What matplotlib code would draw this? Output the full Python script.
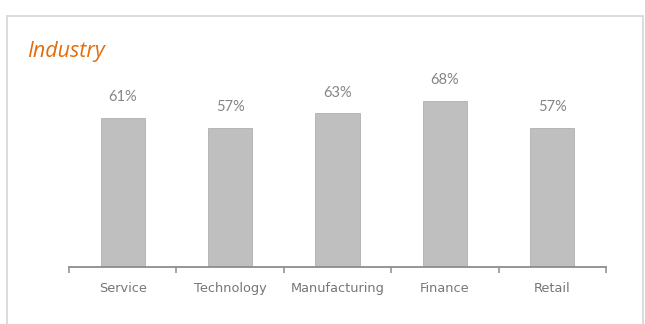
import matplotlib
matplotlib.use("Agg")
import matplotlib.pyplot as plt
from matplotlib.patches import Rectangle

categories = ["Service", "Technology", "Manufacturing", "Finance", "Retail"]
values = [61, 57, 63, 68, 57]
value_labels = ["61%", "57%", "63%", "68%", "57%"]

W, H = 645, 324
fig = plt.figure(figsize=(W / 100, H / 100), dpi=100)
fig.patch.set_facecolor("white")

# outer frame
fig.patches.append(Rectangle((6.5 / W, -0.05), (643 - 6.5) / W, 1.05 - 15.5 / H,
                             transform=fig.transFigure, fill=False,
                             edgecolor="#d9d9d9", linewidth=1.3))

ax = fig.add_axes([69 / W, 1 - 267 / H, (606 - 69) / W, (267 - 72) / H])
x = list(range(len(categories)))
ax.bar(x, values, width=0.41, color="#bfbfbf", edgecolor="#b0b0b0", linewidth=0.6)

for xi, v, lab in zip(x, values, value_labels):
    ax.annotate(lab, (xi, v), xytext=(0, 10), textcoords="offset points",
                ha="center", va="bottom", fontsize=10.5, color="#858585",
                family="Lato")

ax.set_xlim(-0.5, len(categories) - 0.5)
ax.set_ylim(0, 80)
for s in ("top", "right", "left"):
    ax.spines[s].set_visible(False)
ax.spines["bottom"].set_color("#8c8c8c")
ax.spines["bottom"].set_linewidth(1.3)
ax.set_yticks([])

# boundary ticks between categories
ax.set_xticks([i - 0.5 for i in range(len(categories) + 1)], minor=False)
ax.set_xticklabels([])
ax.tick_params(axis="x", which="major", direction="out", length=4,
               color="#8c8c8c", width=1.1)
# category names centred under the bars
ax.set_xticks(x, minor=True)
ax.set_xticklabels(categories, minor=True)
ax.tick_params(axis="x", which="minor", length=0, pad=10.5, labelsize=9.3,
               labelcolor="#767676")
for t in ax.get_xticklabels(minor=True):
    t.set_family("DejaVu Sans")

fig.text(27 / W, 1 - 52 / H, "Industry", ha="left", va="center",
         fontsize=15.5, style="italic", color="#e46c0a", family="Open Sans")

fig.savefig("out.png", dpi=100, facecolor="white")
